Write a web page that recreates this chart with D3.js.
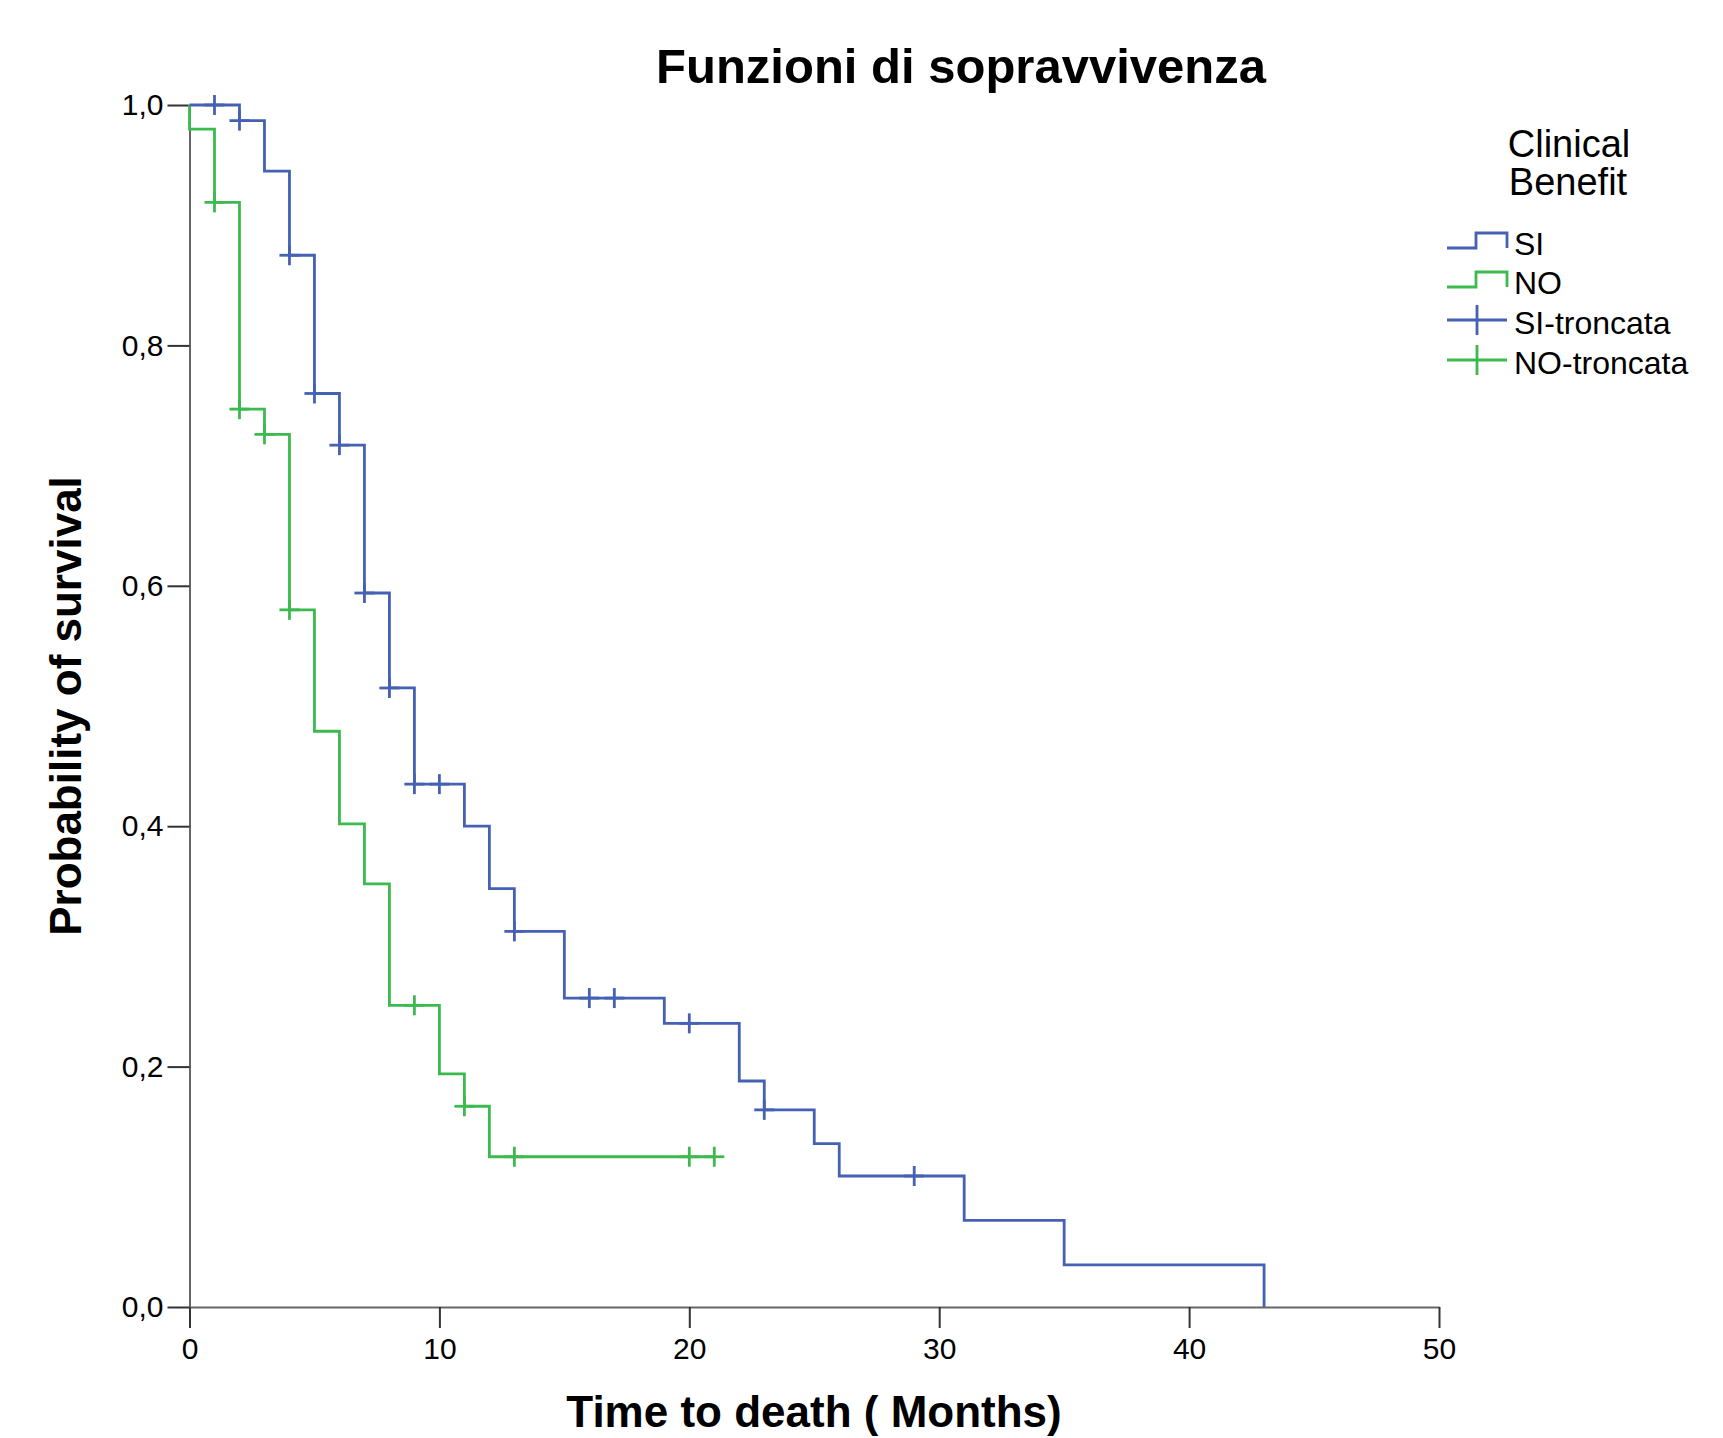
<!DOCTYPE html>
<html>
<head>
<meta charset="utf-8">
<script src="https://cdn.jsdelivr.net/npm/d3@7"></script>
<style>
  html, body { margin: 0; padding: 0; background: #fff; }
  svg { display: block; }
  text { font-family: "Liberation Sans", Arial, sans-serif; fill: #000; }
</style>
</head>
<body>
<svg id="chart" width="1723" height="1438"></svg>
<script>
// ---- Data ----
const chartTitle = "Funzioni di sopravvivenza";
const xTitle = "Time to death ( Months)";
const yTitle = "Probability of survival";
const legendTitle = ["Clinical", "Benefit"];
const legendLabels = ["SI", "NO", "SI-troncata", "NO-troncata"];

const xTicks = [0, 10, 20, 30, 40, 50];
const yTicks = [0, 0.2, 0.4, 0.6, 0.8, 1.0];

// SI group: step times and survival after each step
const siTimes = [0, 2, 3, 4, 5, 6, 7, 8, 9, 11, 12, 13, 15, 19, 22, 23, 25, 26, 31, 35, 43];
const siSurv  = [1, 0.987, 0.945, 0.875, 0.760, 0.717, 0.594, 0.515, 0.435, 0.400, 0.348, 0.3125, 0.257, 0.236, 0.188, 0.164, 0.136, 0.109, 0.072, 0.035, 0];
const siEnd = 43;
// SI censored observations
const siCensTimes = [1, 2, 4, 5, 6, 7, 8, 9, 10, 13, 16, 17, 20, 23, 29];
const siCensSurv  = [1, 0.987, 0.875, 0.760, 0.717, 0.594, 0.515, 0.435, 0.435, 0.3125, 0.257, 0.257, 0.236, 0.164, 0.109];

// NO group
const noTimes = [0, 0, 1, 2, 3, 4, 5, 6, 7, 8, 10, 11, 12];
const noSurv  = [1, 0.98, 0.919, 0.747, 0.726, 0.580, 0.479, 0.402, 0.352, 0.251, 0.194, 0.167, 0.125];
const noEnd = 21;
const noCensTimes = [1, 2, 3, 4, 9, 11, 13, 20, 21];
const noCensSurv  = [0.919, 0.747, 0.726, 0.580, 0.251, 0.167, 0.125, 0.125, 0.125];

const blue = "#4561b4";
const green = "#3dba4f";

// ---- Chart ----
const svg = d3.select("#chart");
const x = d3.scaleLinear().domain([0, 50]).range([189.5, 1439]);
const y = d3.scaleLinear().domain([0, 1]).range([1307, 105]);

const locale = d3.formatLocale({decimal: ",", thousands: ".", grouping: [3], currency: ["", "€"]});
const fmt = locale.format(".1f");

// Title
svg.append("text")
  .attr("x", 961).attr("y", 83)
  .attr("text-anchor", "middle")
  .style("font-size", "49px").style("font-weight", "bold")
  .text(chartTitle);

// Axes
const xAxis = svg.append("g")
  .attr("transform", `translate(0,${y(0)})`)
  .call(d3.axisBottom(x).tickValues(xTicks).tickSize(21).tickPadding(10).tickSizeOuter(0));
const yAxis = svg.append("g")
  .attr("transform", `translate(${x(0)},0)`)
  .call(d3.axisLeft(y).tickValues(yTicks).tickSize(22).tickPadding(4).tickFormat(fmt).tickSizeOuter(0));

[xAxis, yAxis].forEach(g => {
  g.select(".domain").attr("stroke", "#666").attr("stroke-width", 2);
  g.selectAll(".tick line").attr("stroke", "#333").attr("stroke-width", 2);
  g.selectAll(".tick text").style("font-size", "30px").attr("fill", "#000")
    .style("font-family", '"Liberation Sans", Arial, sans-serif');
});

// Axis titles
svg.append("text")
  .attr("x", 814).attr("y", 1427)
  .attr("text-anchor", "middle")
  .style("font-size", "44px").style("font-weight", "bold")
  .text(xTitle);
svg.append("text")
  .attr("transform", `translate(81,706) rotate(-90)`)
  .attr("text-anchor", "middle")
  .style("font-size", "44px").style("font-weight", "bold")
  .text(yTitle);

// Survival curves
const line = d3.line().x(d => x(d[0])).y(d => y(d[1])).curve(d3.curveStepAfter);

function stepPoints(times, surv, end) {
  const pts = times.map((t, i) => [t, surv[i]]);
  pts.push([end, surv[surv.length - 1]]);
  return pts;
}

svg.append("path")
  .datum(stepPoints(noTimes, noSurv, noEnd))
  .attr("d", line).attr("fill", "none")
  .attr("stroke", green).attr("stroke-width", 2.8);

svg.append("path")
  .datum(stepPoints(siTimes, siSurv, siEnd))
  .attr("d", line).attr("fill", "none")
  .attr("stroke", blue).attr("stroke-width", 2.8);

// Censor marks
function censor(times, surv, color) {
  const g = svg.append("g").attr("stroke", color).attr("stroke-width", 2.8);
  times.forEach((t, i) => {
    const cx = x(t), cy = y(surv[i]);
    g.append("line").attr("x1", cx - 10).attr("x2", cx + 10).attr("y1", cy).attr("y2", cy);
    g.append("line").attr("x1", cx).attr("x2", cx).attr("y1", cy - 10).attr("y2", cy + 10);
  });
}
censor(noCensTimes, noCensSurv, green);
censor(siCensTimes, siCensSurv, blue);

// Legend
const lg = svg.append("g");
lg.append("text").attr("x", 1569).attr("y", 157).attr("text-anchor", "middle")
  .style("font-size", "38px").text(legendTitle[0]);
lg.append("text").attr("x", 1568).attr("y", 195).attr("text-anchor", "middle")
  .style("font-size", "38px").text(legendTitle[1]);

const legColors = [blue, green, blue, green];
const rowBase = [255, 294, 334, 374];
legendLabels.forEach((lab, i) => {
  const base = rowBase[i];
  const c = legColors[i];
  if (i < 2) {
    const low = base - 7, high = base - 22;
    lg.append("path")
      .attr("d", `M1447,${low}H1476V${high}H1507V${low}`)
      .attr("fill", "none").attr("stroke", c).attr("stroke-width", 2.8);
  } else {
    const mid = base - 14;
    lg.append("line").attr("x1", 1447).attr("x2", 1507).attr("y1", mid).attr("y2", mid)
      .attr("stroke", c).attr("stroke-width", 2.8);
    lg.append("line").attr("x1", 1477).attr("x2", 1477).attr("y1", mid - 15).attr("y2", mid + 15)
      .attr("stroke", c).attr("stroke-width", 2.8);
  }
  lg.append("text").attr("x", 1514).attr("y", base)
    .style("font-size", "32px").text(lab);
});
</script>
</body>
</html>
